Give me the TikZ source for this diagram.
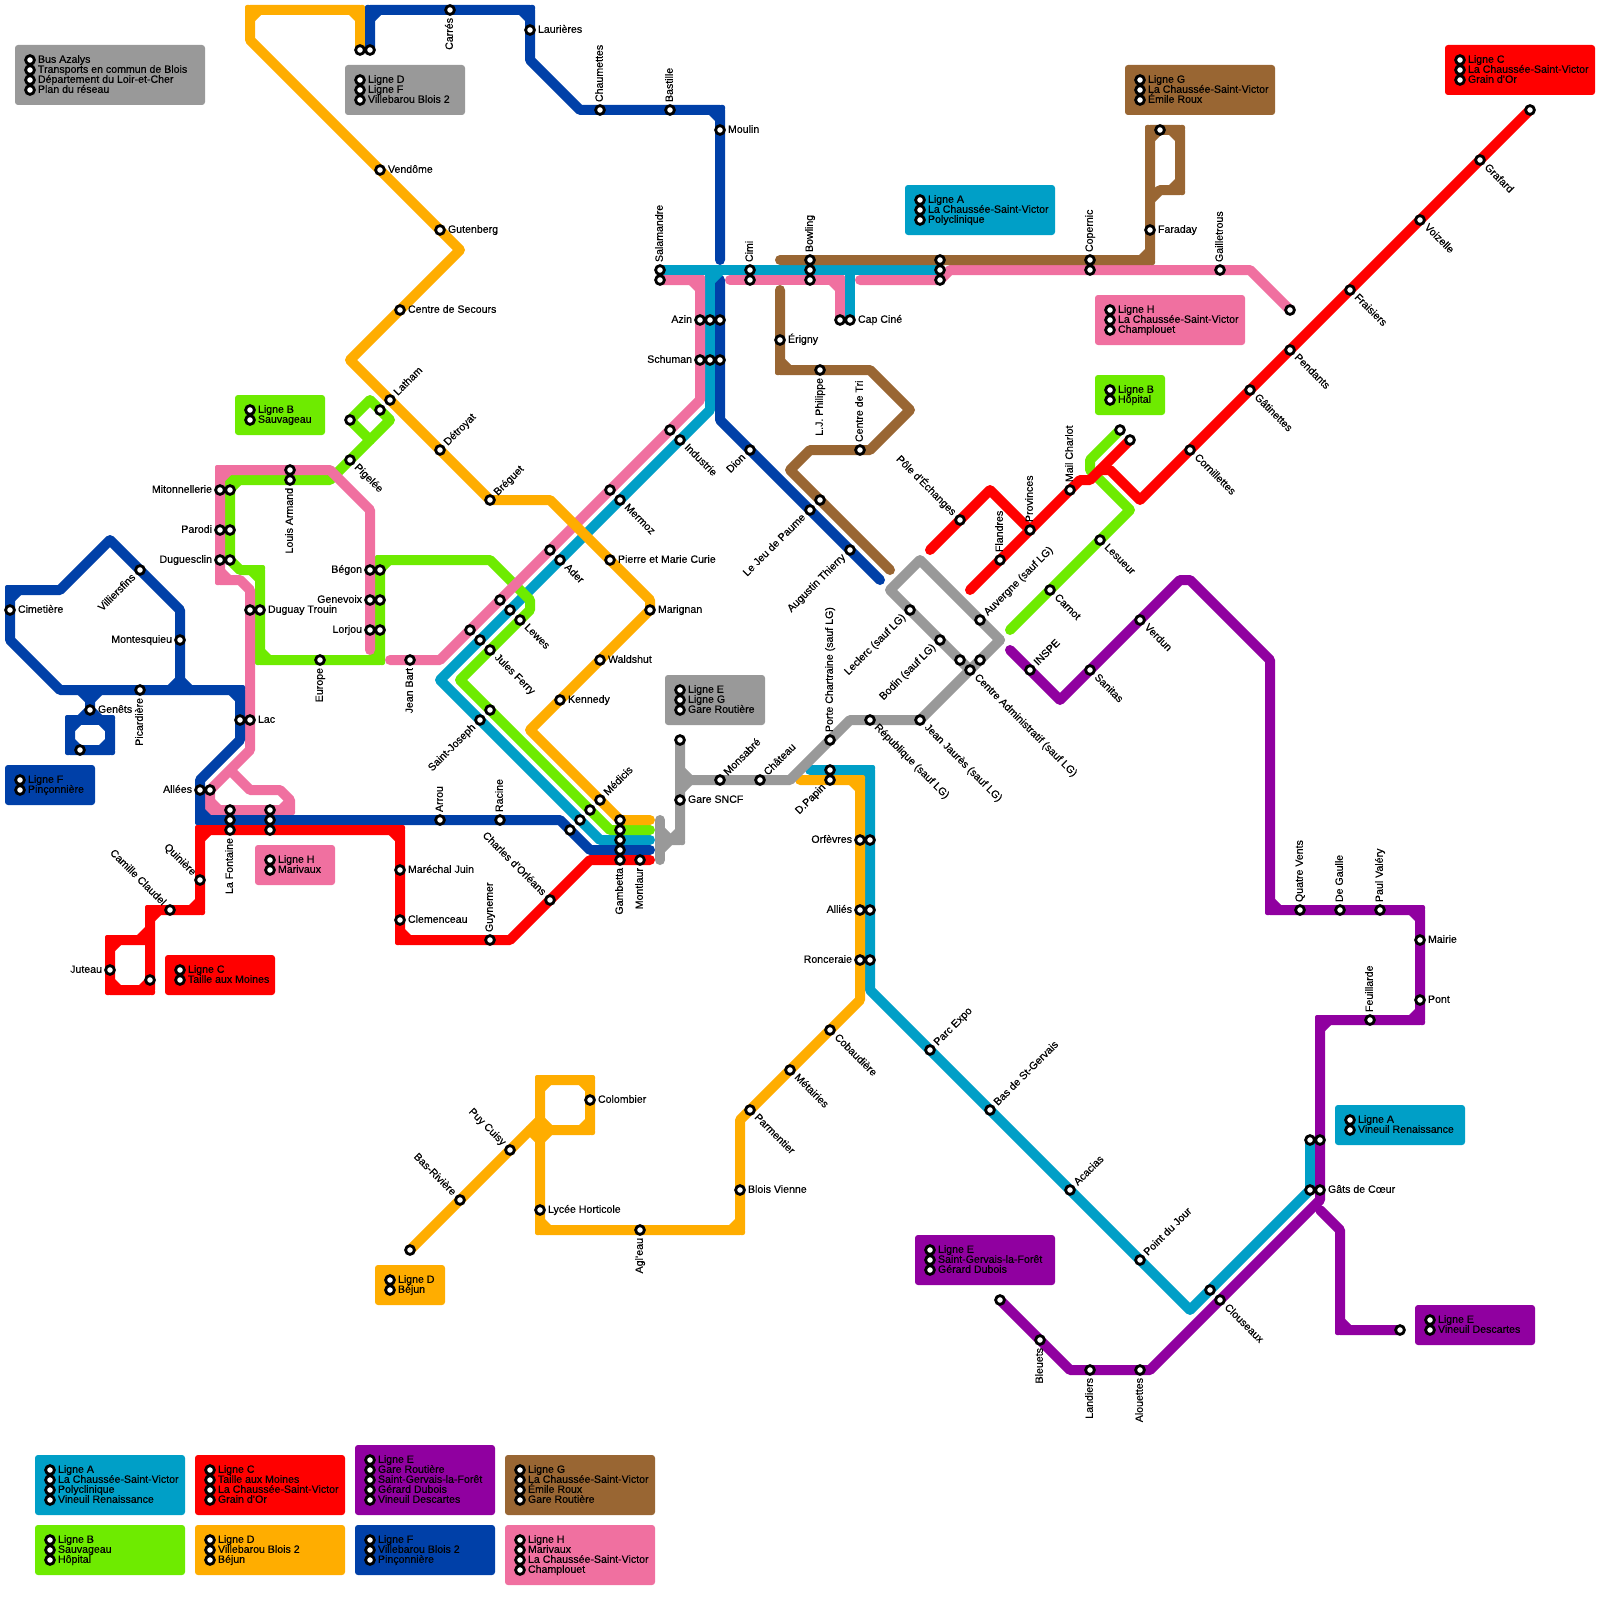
\documentclass[tikz,border=0pt]{standalone}
\usepackage{fontspec}
\setmainfont[FakeBold=0.3]{Liberation Sans}
\definecolor{lA}{RGB}{0,159,199}
\definecolor{lB}{RGB}{110,235,0}
\definecolor{lC}{RGB}{255,0,0}
\definecolor{lD}{RGB}{255,173,0}
\definecolor{lE}{RGB}{144,0,160}
\definecolor{lF}{RGB}{0,64,168}
\definecolor{lG}{RGB}{153,102,51}
\definecolor{lH}{RGB}{240,112,160}
\definecolor{lI}{RGB}{153,153,153}
\tikzset{
  mline/.style={line width=5pt,line cap=round,line join=round},
  stn/.style={circle,draw=black,fill=white,line width=1.4pt,minimum size=4.4pt,inner sep=0pt,outer sep=0pt},
  lbl/.style={inner sep=0pt,outer sep=0pt,font=\fontsize{5.3}{6}\selectfont,text=black,text height=3.8pt,text depth=1pt},
  lr/.style={anchor=west,xshift=4pt},
  ll/.style={anchor=east,xshift=-4pt},
  lu/.style={anchor=west,yshift=4pt,rotate=90},
  ld/.style={anchor=east,yshift=-4pt,rotate=90},
  lne/.style={anchor=west,xshift=3pt,yshift=3pt,rotate=45},
  lse/.style={anchor=west,xshift=3pt,yshift=-3pt,rotate=-45},
  lsw/.style={anchor=east,xshift=-3pt,yshift=-3pt,rotate=45},
  lnw/.style={anchor=east,xshift=-3pt,yshift=3pt,rotate=-45},
  legbox/.style={rounded corners=1.5pt,draw=none}
}
% route with automatic inner chamfers and near-square outer corners at horizontal/vertical corners
\newcommand\mc[2]{%
  \foreach \x/\y [count=\i] in {#2} {%
    \ifnum\i=1 \xdef\mfx{\x}\xdef\mfy{\y}\fi
    \ifnum\i>2
      \pgfmathtruncatemacro\mda{sign(\gax-\gbx)*sign(\x-\gbx)}%
      \pgfmathtruncatemacro\mdb{sign(\gay-\gby)*sign(\y-\gby)}%
      \pgfmathtruncatemacro\mss{sign((\gax-\gbx)+(\x-\gbx))}%
      \pgfmathtruncatemacro\mst{sign((\gay-\gby)+(\y-\gby))}%
      \pgfmathtruncatemacro\mok{(\mda==0)&&(\mdb==0)&&(\mss!=0)&&(\mst!=0)}%
      \ifnum\mok=1
        \fill[#1] ({\gbx+4*\mss},{\gby+4*\mst}) -- ({\gbx+12*\mss},{\gby+4*\mst}) -- ({\gbx+4*\mss},{\gby+12*\mst}) -- cycle;
        \fill[#1,rounded corners=1pt] ({\gbx+1*\mss},{\gby+1*\mst}) rectangle ({\gbx-5*\mss},{\gby-5*\mst});
      \fi
    \fi
    \ifnum\i>1 \xdef\gax{\gbx}\xdef\gay{\gby}\fi
    \xdef\gbx{\x}\xdef\gby{\y}%
  }%
  \draw[mline,#1] (\mfx,\mfy) \foreach \x/\y [count=\i] in {#2} { \ifnum\i>1 -- (\x,\y) \fi };
}
\newcommand\st[2]{\node[stn] (s#1-#2) at (#1,#2) {};}
\newcommand\lb[4]{\node[lbl,#1] (l#2-#3) at (#2,#3) {#4};}
% legend: colour, box corners, first station, lines
\newcommand\leg[8]{%
  \fill[legbox,#1] (#2,#3) rectangle (#4,#5);
  \foreach \t [count=\i from 0] in {#8} {%
    \pgfmathsetmacro\ly{#7+10*\i}%
    \node[stn] (k#6-\i-#7) at (#6,\ly) {};
    \node[lbl,anchor=west,xshift=4pt] (t#6-\i-#7) at (#6,\ly) {\t};
  }%
}
\begin{document}
\begin{tikzpicture}[x=0.5pt,y=-0.5pt]
\useasboundingbox (0,0) rectangle (1600,1600);
\fill[white] (0,0) rectangle (1600,1600);
% legends
\leg{lI}{15}{45}{205}{105}{30}{60}{Bus Azalys,Transports en commun de Blois,Département du Loir-et-Cher,Plan du réseau}
\leg{lI}{345}{65}{465}{115}{360}{80}{Ligne D,Ligne F,Villebarou Blois 2}
\leg{lB}{235}{395}{325}{435}{250}{410}{Ligne B,Sauvageau}
\leg{lA}{905}{185}{1055}{235}{920}{200}{Ligne A,La Chaussée-Saint-Victor,Polyclinique}
\leg{lG}{1125}{65}{1275}{115}{1140}{80}{Ligne G,La Chaussée-Saint-Victor,Émile Roux}
\leg{lC}{1445}{45}{1595}{95}{1460}{60}{Ligne C,La Chaussée-Saint-Victor,Grain d'Or}
\leg{lH}{1095}{295}{1245}{345}{1110}{310}{Ligne H,La Chaussée-Saint-Victor,Champlouet}
\leg{lB}{1095}{375}{1165}{415}{1110}{390}{Ligne B,Hôpital}
\leg{lF}{5}{765}{95}{805}{20}{780}{Ligne F,Pinçonnière}
\leg{lC}{165}{955}{275}{995}{180}{970}{Ligne C,Taille aux Moines}
\leg{lH}{255}{845}{335}{885}{270}{860}{Ligne H,Marivaux}
\leg{lI}{665}{675}{765}{725}{680}{690}{Ligne E,Ligne G,Gare Routière}
\leg{lD}{375}{1265}{445}{1305}{390}{1280}{Ligne D,Béjun}
\leg{lE}{915}{1235}{1055}{1285}{930}{1250}{Ligne E,Saint-Gervais-la-Forêt,Gérard Dubois}
\leg{lA}{1335}{1105}{1465}{1145}{1350}{1120}{Ligne A,Vineuil Renaissance}
\leg{lE}{1415}{1305}{1535}{1345}{1430}{1320}{Ligne E,Vineuil Descartes}
\leg{lA}{35}{1455}{185}{1515}{50}{1470}{Ligne A,La Chaussée-Saint-Victor,Polyclinique,Vineuil Renaissance}
\leg{lC}{195}{1455}{345}{1515}{210}{1470}{Ligne C,Taille aux Moines,La Chaussée-Saint-Victor,Grain d'Or}
\leg{lE}{355}{1445}{495}{1515}{370}{1460}{Ligne E,Gare Routière,Saint-Gervais-la-Forêt,Gérard Dubois,Vineuil Descartes}
\leg{lG}{505}{1455}{655}{1515}{520}{1470}{Ligne G,La Chaussée-Saint-Victor,Émile Roux,Gare Routière}
\leg{lB}{35}{1525}{185}{1575}{50}{1540}{Ligne B,Sauvageau,Hôpital}
\leg{lD}{195}{1525}{345}{1575}{210}{1540}{Ligne D,Villebarou Blois 2,Béjun}
\leg{lF}{355}{1525}{495}{1575}{370}{1540}{Ligne F,Villebarou Blois 2,Pinçonnière}
\leg{lH}{505}{1525}{655}{1585}{520}{1540}{Ligne H,Marivaux,La Chaussée-Saint-Victor,Champlouet}
% line A
\mc{lA}{660/270,940/270}
\mc{lA}{710/270,710/410,440/680,600/840,650/840}
\mc{lA}{850/270,850/320}
\mc{lA}{810/770,870/770,870/990,1190/1310,1310/1190,1310/1140}
% line B
\mc{lB}{350/420,370/440}
\mc{lB}{350/420,370/400,390/420,340/470,330/480,230/480,230/560,240/570,260/570,260/660,380/660,380/560,490/560,530/600,530/610,460/680,610/830,650/830}
\mc{lB}{1010/630,1130/510,1090/470,1090/460,1120/430}
% line H
\mc{lH}{660/280,700/280,700/400,440/660,390/660}
\mc{lH}{730/280,840/280,840/320}
\mc{lH}{860/280,940/280,950/270,1250/270,1290/310}
\mc{lH}{370/650,370/510,330/470,220/470,220/580,240/580,250/590,250/750,210/790,210/810,290/810,290/800,280/790,250/790,230/770}
% line D
\mc{lD}{360/50,360/10,250/10,250/40,460/250,350/360,490/500,550/500,650/600,650/610,530/730,620/820,650/820}
\mc{lD}{410/1250,540/1120,540/1080,590/1080,590/1130,550/1130,540/1140,540/1230,740/1230,740/1120,860/1000,860/780,800/780}
\mc{lD}{540/1120,550/1130}
\mc{lD}{530/1130,540/1140}
\mc{lD}{540/1120,540/1140}
% line F
\mc{lF}{370/50,370/10,530/10,530/60,580/110,720/110,720/260}
\mc{lF}{720/280,720/420,880/580}
\mc{lF}{650/850,590/850,560/820,200/820,200/780,240/740,240/690,60/690,10/640,10/590,60/590,110/540,180/610,180/680,170/690}
\mc{lF}{180/680,190/690}
\mc{lF}{80/690,90/700,100/690}
\mc{lF}{90/700,90/710,80/720,70/720,70/750,110/750,110/720,100/720,90/710}
\mc{lF}{80/720,100/720}
\fill[lA] (715,275) -- (723,275) -- (715,283) -- cycle;
% line G
\mc{lG}{780/260,1150/260,1150/200,1160/190,1180/190,1180/130,1150/130,1150/200}
\mc{lG}{780/290,780/370,870/370,910/410,870/450,810/450,790/470,890/570}
% line E
\mc{lE}{1010/650,1060/700,1180/580,1190/580,1270/660,1270/910,1420/910,1420/1020,1320/1020,1320/1200,1150/1370,1070/1370,1000/1300}
\mc{lE}{1320/1210,1340/1230,1340/1330,1400/1330}
% line C
\mc{lC}{1530/110,1140/500,1110/470,1100/470}
\mc{lC}{1130/440,1090/480,1080/480,970/590}
\mc{lC}{930/550,990/490,1030/530}
\mc{lC}{650/860,590/860,510/940,400/940,400/830,200/830,200/910,150/910,150/990,110/990,110/940,150/940}
\mc{lC}{150/940,150/930}
\fill[lC] (145,935) -- (137,935) -- (145,927) -- cycle;
% grey
\mc{lI}{1000/640,920/560,890/590,970/670}
\mc{lI}{1000/640,920/720,850/720,790/780,690/780,680/770}
\mc{lI}{690/780,680/790}
\mc{lI}{680/740,680/840,670/840,660/850}
\mc{lI}{660/830,670/840}
\mc{lI}{660/820,660/860}
% stations
\foreach \a/\b in {380/170,440/230,400/310,390/400,440/450,490/500,610/560,650/610,600/660,560/700,600/800,590/810,580/820,570/830,
 360/50,370/50,450/10,530/30,600/110,670/110,720/130,
 660/270,660/280,750/270,750/280,810/260,810/270,810/280,940/260,940/270,940/280,1090/260,1090/270,1220/270,1290/310,
 700/320,710/320,720/320,700/360,710/360,720/360,840/320,850/320,780/340,820/370,860/450,820/500,810/510,750/450,850/550,
 1160/130,1150/230,1530/110,1480/160,1420/220,1350/290,1290/350,1250/390,1190/450,1130/440,1120/430,1070/490,1030/530,1000/560,960/520,
 1100/540,1050/590,1140/620,1090/670,1030/670,
 980/620,980/660,960/660,970/670,940/640,910/610,920/720,870/720,830/740,830/770,830/780,
 720/780,760/780,680/740,680/800,
 860/840,870/840,860/910,870/910,860/960,870/960,
 670/430,680/440,610/490,620/500,550/550,560/560,500/600,510/610,520/620,470/630,480/640,490/650,490/710,480/720,410/660,
 620/820,620/830,620/840,620/850,620/860,640/860,550/900,490/940,400/870,400/920,440/820,500/820,
 350/420,380/410,350/460,290/470,290/480,220/490,230/490,220/530,230/530,220/560,230/560,250/610,260/610,
 370/570,380/570,370/600,380/600,370/630,380/630,320/660,240/720,250/720,200/790,210/790,
 230/810,230/820,230/830,270/810,270/820,270/830,200/880,170/910,110/970,150/980,
 10/610,140/570,180/640,140/690,90/710,80/750,
 830/1030,790/1070,750/1110,740/1190,640/1230,540/1210,590/1100,510/1150,460/1200,410/1250,
 930/1050,990/1110,1070/1190,1140/1260,1210/1290,1220/1300,1310/1140,1320/1140,1310/1190,1320/1190,
 1300/910,1340/910,1380/910,1420/940,1420/1000,1370/1020,1400/1330,1000/1300,1040/1340,1090/1370,1140/1370}
 {\st{\a}{\b}}
% labels
\lb{lr}{380}{170}{Vendôme}
\lb{lr}{440}{230}{Gutenberg}
\lb{lr}{400}{310}{Centre de Secours}
\lb{lr}{530}{30}{Laurières}
\lb{lr}{720}{130}{Moulin}
\lb{lr}{780}{340}{Érigny}
\lb{lr}{850}{320}{Cap Ciné}
\lb{lr}{1150}{230}{Faraday}
\lb{lr}{10}{610}{Cimetière}
\lb{lr}{90}{710}{Genêts}
\lb{lr}{260}{610}{Duguay Trouin}
\lb{lr}{250}{720}{Lac}
\lb{lr}{400}{870}{Maréchal Juin}
\lb{lr}{400}{920}{Clemenceau}
\lb{lr}{610}{560}{Pierre et Marie Curie}
\lb{lr}{650}{610}{Marignan}
\lb{lr}{600}{660}{Waldshut}
\lb{lr}{560}{700}{Kennedy}
\lb{lr}{680}{800}{Gare SNCF}
\lb{lr}{540}{1210}{Lycée Horticole}
\lb{lr}{590}{1100}{Colombier}
\lb{lr}{740}{1190}{Blois Vienne}
\lb{lr}{1420}{940}{Mairie}
\lb{lr}{1420}{1000}{Pont}
\lb{lr}{1320}{1190}{Gâts de Cœur}
\lb{ll}{220}{490}{Mitonnellerie}
\lb{ll}{220}{530}{Parodi}
\lb{ll}{220}{560}{Duguesclin}
\lb{ll}{700}{320}{Azin}
\lb{ll}{700}{360}{Schuman}
\lb{ll}{180}{640}{Montesquieu}
\lb{ll}{200}{790}{Allées}
\lb{ll}{370}{570}{Bégon}
\lb{ll}{370}{600}{Genevoix}
\lb{ll}{370}{630}{Lorjou}
\lb{ll}{110}{970}{Juteau}
\lb{ll}{860}{840}{Orfèvres}
\lb{ll}{860}{910}{Alliés}
\lb{ll}{860}{960}{Ronceraie}
\lb{lu}{600}{110}{Chaumettes}
\lb{lu}{670}{110}{Bastille}
\lb{lu}{660}{270}{Salamandre}
\lb{lu}{750}{270}{Cimi}
\lb{lu}{810}{260}{Bowling}
\lb{lu}{1090}{260}{Copernic}
\lb{lu}{1220}{270}{Gailletrous}
\lb{lu}{860}{450}{Centre de Tri}
\lb{lu}{1070}{490}{Mail Charlot}
\lb{lu}{1030}{530}{Provinces}
\lb{lu}{1000}{560}{Flandres}
\lb{lu}{440}{820}{Arrou}
\lb{lu}{500}{820}{Racine}
\lb{lu}{490}{940}{Guynemer}
\lb{lu}{830}{740}{Porte Chartraine (sauf LG)}
\lb{lu}{1300}{910}{Quatre Vents}
\lb{lu}{1340}{910}{De Gaulle}
\lb{lu}{1380}{910}{Paul Valéry}
\lb{lu}{1370}{1020}{Feuillarde}
\lb{ld}{450}{10}{Carrés}
\lb{ld}{290}{480}{Louis Armand}
\lb{ld}{820}{370}{L.J. Philippe}
\lb{ld}{230}{830}{La Fontaine}
\lb{ld}{140}{690}{Picardière}
\lb{ld}{320}{660}{Europe}
\lb{ld}{410}{660}{Jean Bart}
\lb{ld}{620}{860}{Gambetta}
\lb{ld}{640}{860}{Montlaur}
\lb{ld}{640}{1230}{Agl'eau}
\lb{ld}{1040}{1340}{Bleuets}
\lb{ld}{1090}{1370}{Landiers}
\lb{ld}{1140}{1370}{Alouettes}
\lb{lne}{390}{400}{Latham}
\lb{lne}{440}{450}{Détroyat}
\lb{lne}{490}{500}{Bréguet}
\lb{lne}{600}{800}{Médicis}
\lb{lne}{720}{780}{Monsabré}
\lb{lne}{760}{780}{Château}
\lb{lne}{1030}{670}{INSPE}
\lb{lne}{980}{620}{Auvergne (sauf LG)}
\lb{lne}{930}{1050}{Parc Expo}
\lb{lne}{990}{1110}{Bas de St-Gervais}
\lb{lne}{1070}{1190}{Acacias}
\lb{lne}{1140}{1260}{Point du Jour}
\lb{lse}{350}{460}{Pigelée}
\lb{lse}{680}{440}{Industrie}
\lb{lse}{620}{500}{Mermoz}
\lb{lse}{560}{560}{Ader}
\lb{lse}{520}{620}{Lewes}
\lb{lse}{490}{650}{Jules Ferry}
\lb{lse}{1480}{160}{Grafard}
\lb{lse}{1420}{220}{Voizelle}
\lb{lse}{1350}{290}{Fraisiers}
\lb{lse}{1290}{350}{Pendants}
\lb{lse}{1250}{390}{Gâtinettes}
\lb{lse}{1190}{450}{Cornillettes}
\lb{lse}{1100}{540}{Lesueur}
\lb{lse}{1050}{590}{Carnot}
\lb{lse}{1140}{620}{Verdun}
\lb{lse}{1090}{670}{Sanitas}
\lb{lse}{870}{720}{République (sauf LG)}
\lb{lse}{920}{720}{Jean Jaurès (sauf LG)}
\lb{lse}{970}{670}{Centre Administratif (sauf LG)}
\lb{lse}{830}{1030}{Cobaudière}
\lb{lse}{790}{1070}{Métairies}
\lb{lse}{750}{1110}{Parmentier}
\lb{lse}{1220}{1300}{Clouseaux}
\lb{lsw}{140}{570}{Villiersfins}
\lb{lsw}{750}{450}{Dion}
\lb{lsw}{810}{510}{Le Jeu de Paume}
\lb{lsw}{850}{550}{Augustin Thierry}
\lb{lsw}{480}{720}{Saint-Joseph}
\lb{lsw}{830}{780}{D.Papin}
\lb{lsw}{910}{610}{Leclerc (sauf LG)}
\lb{lsw}{940}{640}{Bodin (sauf LG)}
\lb{lnw}{960}{520}{Pôle d'Échanges}
\lb{lnw}{170}{910}{Camille Claudel}
\lb{lnw}{200}{880}{Quinière}
\lb{lnw}{550}{900}{Charles d'Orléans}
\lb{lnw}{510}{1150}{Puy Cuisy}
\lb{lnw}{460}{1200}{Bas-Rivière}
\end{tikzpicture}
\end{document}
